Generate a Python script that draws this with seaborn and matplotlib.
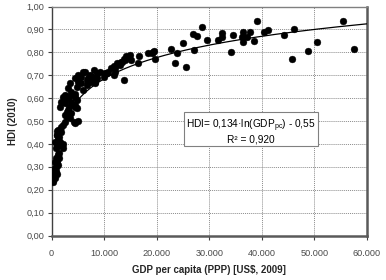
import numpy as np
import pandas as pd
import matplotlib
matplotlib.use("Agg")
import matplotlib.pyplot as plt
from matplotlib.ticker import FuncFormatter
import seaborn as sns

# ---- data ----
gdp = [
    # low cluster
    300, 350, 400, 500, 600, 700, 800, 1000, 1100, 900, 1300, 1200, 700, 1000, 1400, 1500, 600, 800,
    # 0.37-0.47
    900, 1200, 1000, 1600, 1900, 2200, 1300, 1500, 1100, 1800, 1300, 1600, 1000, 1100, 1900, 2100, 700,
    # 0.47-0.62
    2200, 2600, 4500, 5100, 4300, 2900, 3500, 2600, 3800, 3200, 2900, 4800, 3400, 4500, 1600, 1900,
    4500, 2600, 2200, 3800, 4900, 3200, 4500, 2200, 3800, 2600, 4500, 3800,
    # 0.62-0.74
    6000, 3200, 4800, 6700, 3500, 5700, 5100, 8300, 13800, 6700, 7000, 4500, 8600, 5700, 9900, 7950,
    5100, 7300, 11800, 6000, 6400, 9200, 12100, 10800, 10200, 8600, 10500, 8000, 7600, 8300, 11400,
    12100, 11800,
    # 12k-20k
    12400, 13200, 13000, 13400, 13700, 14000, 14300, 14900, 15100, 14200, 16700, 16400, 18400, 19100,
    19500, 19700, 19300,
    # > 20k
    22700, 23400, 23800, 25100, 25500, 27000, 27600, 27100, 28600, 29500, 31700, 32400, 32400, 34100,
    34500, 36200, 36400, 36400, 37100, 37800, 38500, 39000, 40500, 41100, 44200, 45800, 46200, 48700,
    50400, 55400, 57500,
]
hdi = [
    0.235, 0.243, 0.257, 0.270, 0.286, 0.293, 0.300, 0.315, 0.330, 0.337, 0.352, 0.310, 0.320, 0.270, 0.340, 0.360, 0.250, 0.280,
    0.380, 0.390, 0.400, 0.410, 0.395, 0.400, 0.420, 0.430, 0.440, 0.450, 0.460, 0.461, 0.439, 0.458, 0.475, 0.380, 0.410,
    0.483, 0.497, 0.493, 0.501, 0.497, 0.519, 0.512, 0.526, 0.534, 0.548, 0.540, 0.555, 0.562, 0.562, 0.562, 0.584,
    0.570, 0.577, 0.584, 0.584, 0.592, 0.600, 0.606, 0.606, 0.613, 0.613, 0.620, 0.628,
    0.635, 0.643, 0.650, 0.657, 0.665, 0.665, 0.672, 0.672, 0.679, 0.679, 0.686, 0.686, 0.686, 0.693, 0.693, 0.693,
    0.700, 0.700, 0.700, 0.715, 0.715, 0.715, 0.715, 0.715, 0.708, 0.708, 0.708, 0.723, 0.672, 0.665, 0.730,
    0.730, 0.740,
    0.752, 0.759, 0.745, 0.759, 0.769, 0.766, 0.778, 0.788, 0.766, 0.784, 0.784, 0.755, 0.798, 0.796,
    0.807, 0.769, 0.800,
    0.814, 0.752, 0.798, 0.839, 0.737, 0.880, 0.871, 0.810, 0.909, 0.854, 0.854, 0.883, 0.865, 0.800,
    0.876, 0.865, 0.887, 0.846, 0.868, 0.887, 0.851, 0.938, 0.890, 0.896, 0.876, 0.772, 0.903, 0.806,
    0.846, 0.937, 0.815,
]
fit_a, fit_b = 0.134, -0.55
x_ticks = [0, 10000, 20000, 30000, 40000, 50000, 60000]
y_ticks = [0.0, 0.1, 0.2, 0.3, 0.4, 0.5, 0.6, 0.7, 0.8, 0.9, 1.0]
x_label = "GDP per capita (PPP) [US$, 2009]"
y_label = "HDI (2010)"
eq_text = "HDI= 0,134·ln(GDP$_{\\mathrm{pc}}$) - 0,55\nR² = 0,920"

df = pd.DataFrame({"gdp": gdp, "hdi": hdi})
fit_x = np.linspace(600, 60000, 400)
fit_df = pd.DataFrame({"gdp": fit_x, "hdi": fit_a * np.log(fit_x) + fit_b})

sns.set_theme(style="white")
plt.rcParams["font.family"] = ["Liberation Sans", "DejaVu Sans"]
plt.rcParams["mathtext.fontset"] = "custom"
plt.rcParams["mathtext.rm"] = "Liberation Sans"
plt.rcParams["mathtext.it"] = "Liberation Sans:italic"
plt.rcParams["mathtext.bf"] = "Liberation Sans:bold"

fig = plt.figure(figsize=(3.86, 2.80), dpi=100)
ax = fig.add_axes([51.5 / 386, 1 - 235.5 / 280, (367 - 51.5) / 386, (235.5 - 6.5) / 280])

sns.lineplot(data=fit_df, x="gdp", y="hdi", ax=ax, color="black", linewidth=0.9, zorder=3)
sns.scatterplot(data=df, x="gdp", y="hdi", ax=ax, color="black", s=24, edgecolor="black",
                linewidth=0.3, zorder=4)

ax.set_xlim(0, 60000)
ax.set_ylim(0, 1.0)
ax.set_xticks(x_ticks)
ax.set_yticks(y_ticks)
ax.xaxis.set_major_formatter(FuncFormatter(lambda v, p: f"{int(v):,}".replace(",", ".")))
ax.yaxis.set_major_formatter(FuncFormatter(lambda v, p: f"{v:.2f}".replace(".", ",")))
ax.grid(True, color="#8c8c8c", linestyle=(0, (1, 1)), linewidth=0.7)
ax.set_axisbelow(True)

for s in ["left", "top"]:
    ax.spines[s].set_color("#808080")
    ax.spines[s].set_linewidth(1.0)
for s in ["right", "bottom"]:
    ax.spines[s].set_color("#5a5a5a")
    ax.spines[s].set_linewidth(1.8)
ax.spines["left"].set_color("#404040")

ax.tick_params(axis="both", which="major", labelsize=6.6, labelcolor="#4a4a4a", length=3,
               width=0.8, color="#404040", direction="out")
ax.tick_params(axis="x", pad=7)
ax.tick_params(axis="y", pad=2)
ax.xaxis.set_ticks_position("bottom")
ax.yaxis.set_ticks_position("left")

ax.set_xlabel(x_label, fontsize=7, fontweight="bold", labelpad=5)
ax.set_ylabel(y_label, fontsize=7, fontweight="bold", labelpad=6)

ax.text(37900, 0.456, eq_text, ha="center", va="center", fontsize=7.3, linespacing=1.0,
        color="black", zorder=5,
        bbox=dict(boxstyle="square,pad=0.2", facecolor="white", edgecolor="#808080", linewidth=0.8))

fig.savefig("out.png", dpi=100)
